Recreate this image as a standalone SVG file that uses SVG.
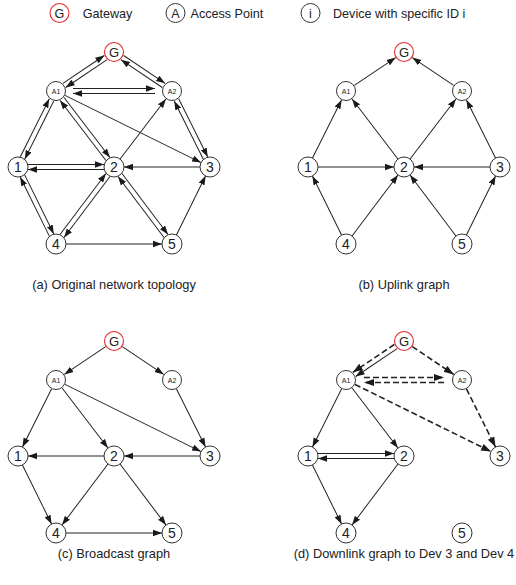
<svg xmlns="http://www.w3.org/2000/svg" width="516" height="585" viewBox="0 0 516 585">
<defs>
<marker id="ah" viewBox="0 0 10 8" refX="9" refY="4" markerWidth="10" markerHeight="8" orient="auto" markerUnits="userSpaceOnUse"><path d="M0,0.8 L9,4 L0,7.2 z" fill="#1a1a1a"/></marker>
<marker id="ahd" viewBox="0 0 11 9" refX="10" refY="4.5" markerWidth="11" markerHeight="9" orient="auto" markerUnits="userSpaceOnUse"><path d="M0,0.9 L10,4.5 L0,8.1 z" fill="#1a1a1a"/></marker>
<style>
.e{stroke:#222;stroke-width:1;fill:none;marker-end:url(#ah)}
.d{stroke:#222;stroke-width:1.6;fill:none;stroke-dasharray:6 3;marker-end:url(#ahd)}
.n{fill:#fff;stroke:#333;stroke-width:1}
.g{fill:#fff;stroke:#e5262a;stroke-width:1.1}
.t{font-family:"Liberation Sans",Arial,sans-serif;fill:#222;text-anchor:middle}
.num{font-size:14px}
.gl{font-size:13px}
.al{font-size:7px}
.cap{font-family:"Liberation Sans",Arial,sans-serif;fill:#222;font-size:12.8px;text-anchor:middle}
.leg{font-family:"Liberation Sans",Arial,sans-serif;fill:#222;font-size:12.6px}
</style>
</defs>
<rect width="516" height="585" fill="#fff"/>

<g id="legend">
<circle class="g" cx="59.5" cy="13" r="9.5"/><text class="t" x="59.5" y="17.5" font-size="12.6">G</text>
<text class="leg" x="82.7" y="17.5">Gateway</text>
<circle class="n" cx="175.5" cy="13" r="9.5"/><text class="t" x="175.5" y="17.5" font-size="12.6">A</text>
<text class="leg" x="190.5" y="17.5">Access Point</text>
<circle class="n" cx="310.5" cy="13" r="9.5"/><text class="t" x="310.5" y="17.5" font-size="12.6">i</text>
<text class="leg" x="333" y="17.5">Device with specific ID i</text>
</g>

<g id="connectors">
<!-- (a) original topology -->
<g id="conn-a">
<g transform="translate(114 52) rotate(146.08)"><line class="e" x1="10" y1="-2.5" x2="59.89" y2="-2.5"/><line class="e" x1="59.89" y1="2.5" x2="10" y2="2.5"/></g>
<g transform="translate(114 52) rotate(33.92)"><line class="e" x1="10" y1="-2.5" x2="59.89" y2="-2.5"/><line class="e" x1="59.89" y1="2.5" x2="10" y2="2.5"/></g>
<g transform="translate(56 91)"><line class="e" x1="17" y1="-2.5" x2="99" y2="-2.5"/><line class="e" x1="99" y1="2.5" x2="17" y2="2.5"/></g>
<g transform="translate(56 91) rotate(116.57)"><line class="e" x1="10" y1="-2.5" x2="74.97" y2="-2.5"/><line class="e" x1="74.97" y1="2.5" x2="10" y2="2.5"/></g>
<g transform="translate(56 91) rotate(52.65)"><line class="e" x1="10" y1="-2.5" x2="85.6" y2="-2.5"/><line class="e" x1="85.6" y1="2.5" x2="10" y2="2.5"/></g>
<g transform="translate(56 91) rotate(26.27)"><line class="e" x1="10" y1="0" x2="161.73" y2="0"/></g>
<g transform="translate(172 91) rotate(63.43)"><line class="e" x1="10" y1="-2.5" x2="74.97" y2="-2.5"/><line class="e" x1="74.97" y1="2.5" x2="10" y2="2.5"/></g>
<g transform="translate(114 167) rotate(-52.65)"><line class="e" x1="10" y1="0" x2="85.6" y2="0"/></g>
<g transform="translate(18 167)"><line class="e" x1="10" y1="-2.5" x2="86" y2="-2.5"/><line class="e" x1="86" y1="2.5" x2="10" y2="2.5"/></g>
<g transform="translate(210 167) rotate(180)"><line class="e" x1="10" y1="0" x2="86" y2="0"/></g>
<g transform="translate(18 167) rotate(63.74)"><line class="e" x1="10" y1="-2.5" x2="75.87" y2="-2.5"/><line class="e" x1="75.87" y1="2.5" x2="10" y2="2.5"/></g>
<g transform="translate(114 167) rotate(126.99)"><line class="e" x1="10" y1="-2.5" x2="86.4" y2="-2.5"/><line class="e" x1="86.4" y1="2.5" x2="10" y2="2.5"/></g>
<g transform="translate(114 167) rotate(53.01)"><line class="e" x1="10" y1="-2.5" x2="86.4" y2="-2.5"/><line class="e" x1="86.4" y1="2.5" x2="10" y2="2.5"/></g>
<g transform="translate(56 244)"><line class="e" x1="10" y1="0" x2="106" y2="0"/></g>
<g transform="translate(172 244) rotate(-63.74)"><line class="e" x1="10" y1="0" x2="75.87" y2="0"/></g>
</g>
<!-- (b) uplink -->
<g id="conn-b" transform="translate(290 0)">
<g transform="translate(56 91) rotate(-33.92)"><line class="e" x1="10" y1="0" x2="59.89" y2="0"/></g>
<g transform="translate(172 91) rotate(-146.08)"><line class="e" x1="10" y1="0" x2="59.89" y2="0"/></g>
<g transform="translate(18 167) rotate(-63.43)"><line class="e" x1="10" y1="0" x2="74.97" y2="0"/></g>
<g transform="translate(114 167) rotate(-127.35)"><line class="e" x1="10" y1="0" x2="85.6" y2="0"/></g>
<g transform="translate(114 167) rotate(-52.65)"><line class="e" x1="10" y1="0" x2="85.6" y2="0"/></g>
<g transform="translate(210 167) rotate(-116.57)"><line class="e" x1="10" y1="0" x2="74.97" y2="0"/></g>
<g transform="translate(18 167)"><line class="e" x1="10" y1="0" x2="86" y2="0"/></g>
<g transform="translate(210 167) rotate(180)"><line class="e" x1="10" y1="0" x2="86" y2="0"/></g>
<g transform="translate(56 244) rotate(-116.26)"><line class="e" x1="10" y1="0" x2="75.87" y2="0"/></g>
<g transform="translate(56 244) rotate(-53.01)"><line class="e" x1="10" y1="0" x2="86.4" y2="0"/></g>
<g transform="translate(172 244) rotate(-126.99)"><line class="e" x1="10" y1="0" x2="86.4" y2="0"/></g>
<g transform="translate(172 244) rotate(-63.74)"><line class="e" x1="10" y1="0" x2="75.87" y2="0"/></g>
</g>
<!-- (c) broadcast -->
<g id="conn-c" transform="translate(0 289)">
<g transform="translate(114 52) rotate(146.08)"><line class="e" x1="10" y1="0" x2="59.89" y2="0"/></g>
<g transform="translate(114 52) rotate(33.92)"><line class="e" x1="10" y1="0" x2="59.89" y2="0"/></g>
<g transform="translate(56 91) rotate(116.57)"><line class="e" x1="10" y1="0" x2="74.97" y2="0"/></g>
<g transform="translate(56 91) rotate(52.65)"><line class="e" x1="10" y1="0" x2="85.6" y2="0"/></g>
<g transform="translate(56 91) rotate(26.27)"><line class="e" x1="10" y1="0" x2="161.73" y2="0"/></g>
<g transform="translate(172 91) rotate(63.43)"><line class="e" x1="10" y1="0" x2="74.97" y2="0"/></g>
<g transform="translate(114 167) rotate(180)"><line class="e" x1="10" y1="0" x2="86" y2="0"/></g>
<g transform="translate(210 167) rotate(180)"><line class="e" x1="10" y1="0" x2="86" y2="0"/></g>
<g transform="translate(18 167) rotate(63.74)"><line class="e" x1="10" y1="0" x2="75.87" y2="0"/></g>
<g transform="translate(114 167) rotate(126.99)"><line class="e" x1="10" y1="0" x2="86.4" y2="0"/></g>
<g transform="translate(114 167) rotate(53.01)"><line class="e" x1="10" y1="0" x2="86.4" y2="0"/></g>
<g transform="translate(56 244)"><line class="e" x1="10" y1="0" x2="106" y2="0"/></g>
</g>
<!-- (d) downlink -->
<g id="conn-d" transform="translate(290 289)">
<g transform="translate(114 52) rotate(146.08)"><line class="d" x1="10" y1="2.5" x2="59.89" y2="2.5"/><line class="e" x1="10" y1="-2.5" x2="59.89" y2="-2.5"/></g>
<g transform="translate(114 52) rotate(33.92)"><line class="d" x1="10" y1="0" x2="59.89" y2="0"/></g>
<g transform="translate(56 91)"><line class="d" x1="18" y1="-2.5" x2="98" y2="-2.5"/><line class="d" x1="98" y1="2.5" x2="18" y2="2.5"/></g>
<g transform="translate(56 91) rotate(26.27)"><line class="d" x1="10" y1="0" x2="161.73" y2="0"/></g>
<g transform="translate(172 91) rotate(63.43)"><line class="d" x1="10" y1="0" x2="74.97" y2="0"/></g>
<g transform="translate(56 91) rotate(116.57)"><line class="e" x1="10" y1="0" x2="74.97" y2="0"/></g>
<g transform="translate(56 91) rotate(52.65)"><line class="e" x1="10" y1="0" x2="85.6" y2="0"/></g>
<g transform="translate(18 167)"><line class="e" x1="10" y1="-2.5" x2="86" y2="-2.5"/><line class="e" x1="86" y1="2.5" x2="10" y2="2.5"/></g>
<g transform="translate(18 167) rotate(63.74)"><line class="e" x1="10" y1="0" x2="75.87" y2="0"/></g>
<g transform="translate(114 167) rotate(126.99)"><line class="e" x1="10" y1="0" x2="86.4" y2="0"/></g>
</g>
</g>

<!-- nodes panel a -->
<g id="nodes-a">
<g id="a-G"><circle class="g" cx="114" cy="52" r="9.5"/><text class="t gl" x="114" y="56.7">G</text></g>
<g id="a-A1"><circle class="n" cx="56" cy="91" r="9.5"/><text class="t al" x="56" y="93.5">A1</text></g>
<g id="a-A2"><circle class="n" cx="172" cy="91" r="9.5"/><text class="t al" x="172" y="93.5">A2</text></g>
<g id="a-1"><circle class="n" cx="18" cy="167" r="10"/><text class="t num" x="18" y="172">1</text></g>
<g id="a-2"><circle class="n" cx="114" cy="167" r="10"/><text class="t num" x="114" y="172">2</text></g>
<g id="a-3"><circle class="n" cx="210" cy="167" r="10"/><text class="t num" x="210" y="172">3</text></g>
<g id="a-4"><circle class="n" cx="56" cy="244" r="10"/><text class="t num" x="56" y="249">4</text></g>
<g id="a-5"><circle class="n" cx="172" cy="244" r="10"/><text class="t num" x="172" y="249">5</text></g>
</g>
<g id="nodes-b" transform="translate(290 0)">
<g id="b-G"><circle class="g" cx="114" cy="52" r="9.5"/><text class="t gl" x="114" y="56.7">G</text></g>
<g id="b-A1"><circle class="n" cx="56" cy="91" r="9.5"/><text class="t al" x="56" y="93.5">A1</text></g>
<g id="b-A2"><circle class="n" cx="172" cy="91" r="9.5"/><text class="t al" x="172" y="93.5">A2</text></g>
<g id="b-1"><circle class="n" cx="18" cy="167" r="10"/><text class="t num" x="18" y="172">1</text></g>
<g id="b-2"><circle class="n" cx="114" cy="167" r="10"/><text class="t num" x="114" y="172">2</text></g>
<g id="b-3"><circle class="n" cx="210" cy="167" r="10"/><text class="t num" x="210" y="172">3</text></g>
<g id="b-4"><circle class="n" cx="56" cy="244" r="10"/><text class="t num" x="56" y="249">4</text></g>
<g id="b-5"><circle class="n" cx="172" cy="244" r="10"/><text class="t num" x="172" y="249">5</text></g>
</g>
<g id="nodes-c" transform="translate(0 289)">
<g id="c-G"><circle class="g" cx="114" cy="52" r="9.5"/><text class="t gl" x="114" y="56.7">G</text></g>
<g id="c-A1"><circle class="n" cx="56" cy="91" r="9.5"/><text class="t al" x="56" y="93.5">A1</text></g>
<g id="c-A2"><circle class="n" cx="172" cy="91" r="9.5"/><text class="t al" x="172" y="93.5">A2</text></g>
<g id="c-1"><circle class="n" cx="18" cy="167" r="10"/><text class="t num" x="18" y="172">1</text></g>
<g id="c-2"><circle class="n" cx="114" cy="167" r="10"/><text class="t num" x="114" y="172">2</text></g>
<g id="c-3"><circle class="n" cx="210" cy="167" r="10"/><text class="t num" x="210" y="172">3</text></g>
<g id="c-4"><circle class="n" cx="56" cy="244" r="10"/><text class="t num" x="56" y="249">4</text></g>
<g id="c-5"><circle class="n" cx="172" cy="244" r="10"/><text class="t num" x="172" y="249">5</text></g>
</g>
<g id="nodes-d" transform="translate(290 289)">
<g id="d-G"><circle class="g" cx="114" cy="52" r="9.5"/><text class="t gl" x="114" y="56.7">G</text></g>
<g id="d-A1"><circle class="n" cx="56" cy="91" r="9.5"/><text class="t al" x="56" y="93.5">A1</text></g>
<g id="d-A2"><circle class="n" cx="172" cy="91" r="9.5"/><text class="t al" x="172" y="93.5">A2</text></g>
<g id="d-1"><circle class="n" cx="18" cy="167" r="10"/><text class="t num" x="18" y="172">1</text></g>
<g id="d-2"><circle class="n" cx="114" cy="167" r="10"/><text class="t num" x="114" y="172">2</text></g>
<g id="d-3"><circle class="n" cx="210" cy="167" r="10"/><text class="t num" x="210" y="172">3</text></g>
<g id="d-4"><circle class="n" cx="56" cy="244" r="10"/><text class="t num" x="56" y="249">4</text></g>
<g id="d-5"><circle class="n" cx="172" cy="244" r="10"/><text class="t num" x="172" y="249">5</text></g>
</g>

<g id="captions">
<text class="cap" x="114" y="289">(a) Original network topology</text>
<text class="cap" x="404" y="289">(b) Uplink graph</text>
<text class="cap" x="114" y="557.5">(c) Broadcast graph</text>
<text class="cap" x="404" y="557.5">(d) Downlink graph to Dev 3 and Dev 4</text>
</g>
</svg>
